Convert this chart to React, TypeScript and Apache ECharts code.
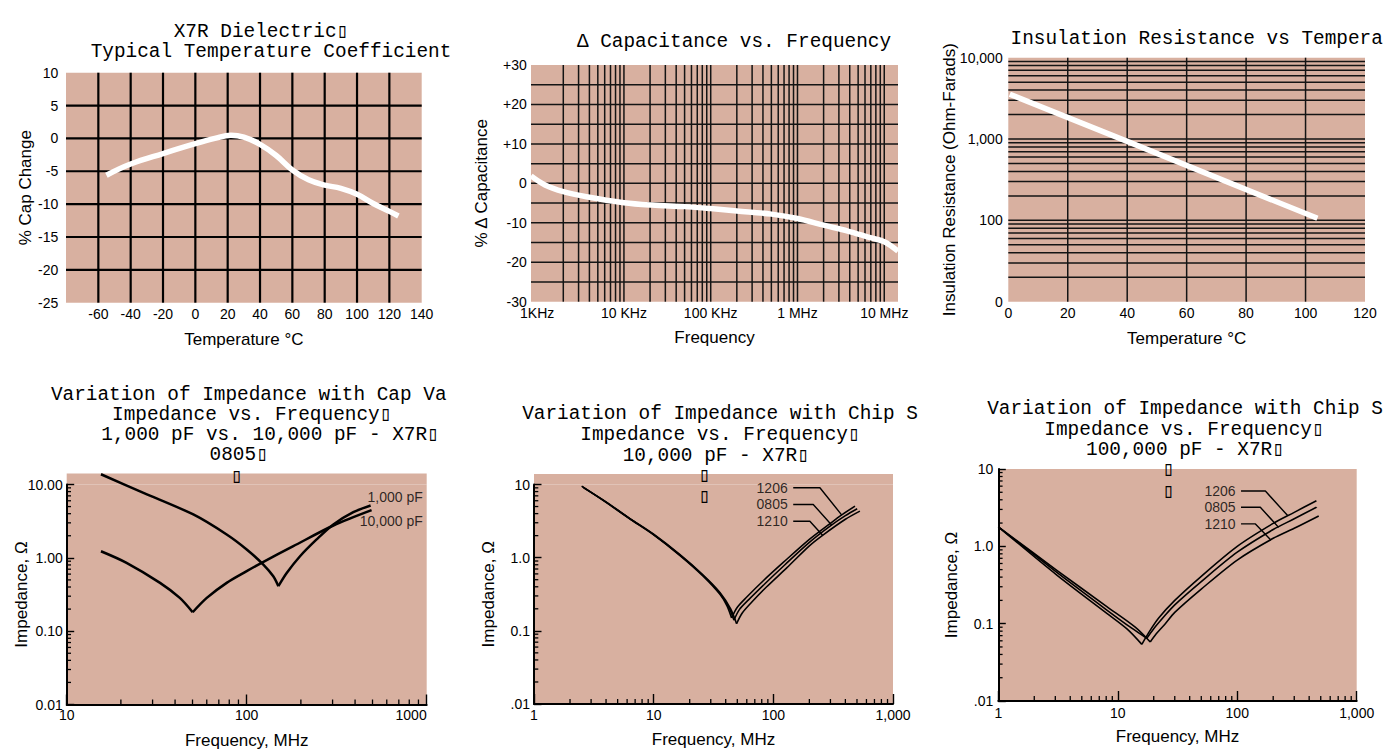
import React, { useEffect, useRef } from 'react';
import * as echarts from 'echarts';

const BG = '#d8b0a0';
const SANS = '"Liberation Sans", Arial, Helvetica, sans-serif';
const MONO = '"Liberation Mono", "Courier New", monospace';
const BOX = '\u25AF';

// ---------- Panel 1: X7R typical temperature coefficient ----------
const tcTemp = [-55, -40, -20, 0, 12, 22, 30, 40, 50, 60, 70, 80, 90, 100, 110, 120, 125.6];
const tcPct = [-5.6, -3.9, -2.3, -0.8, 0.0, 0.5, 0.2, -0.9, -2.6, -4.8, -6.3, -7.1, -7.6, -8.5, -9.9, -11.1, -11.8];
const tcXTicks = [-60, -40, -20, 0, 20, 40, 60, 80, 100, 120, 140];
const tcVGrid = [-60, -40, -20, 0, 20, 40, 60, 80, 100, 120];
const tcHGrid = [5, 0, -5, -10, -15, -20];

// ---------- Panel 2: capacitance vs frequency ----------
const cfFreq = [849, 1230, 2000, 3700, 10000, 21000, 50000, 100000, 200000, 500000, 1000000, 2000000, 3800000, 6700000, 10000000, 14400000];
const cfPct = [1.9, -0.4, -2.1, -3.4, -4.9, -5.5, -5.9, -6.4, -7.0, -7.8, -8.9, -10.6, -12.1, -13.7, -14.8, -17.2];
const cfXTicks = [1e3, 1e4, 1e5, 1e6, 1e7];
const cfXLabels = ['1KHz', '10 KHz', '100 KHz', '1 MHz', '10 MHz'];
const cfYTicks = [30, 20, 10, 0, -10, -20, -30];
const cfYLabels = ['+30', '+20', '+10', '0', '-10', '-20', '-30'];
const cfHGrid = [25, 20, 15, 10, 5, 0, -5, -10, -15, -20, -25];

// ---------- Panel 3: insulation resistance vs temperature ----------
const irTemp = [0.5, 40, 104];
const irOhmF = [3550, 935, 106];
const irYTicks = [10, 100, 1000, 10000];
const irYLabels = ['0', '100', '1,000', '10,000'];
const irXTicks = [0, 20, 40, 60, 80, 100, 120];
const irVGrid = [20, 40, 60, 80, 100];

// ---------- Panel 4: 1,000 pF vs 10,000 pF (0805) ----------
const p4C1000DescF = [15.5, 26.7, 50.5, 77.4, 100, 123.7, 140.5, 150];
const p4C1000DescZ = [13.8, 7.7, 3.9, 2.08, 1.3, 0.81, 0.56, 0.41];
const p4C1000RiseF = [150, 166.8, 197.8, 244.6, 303, 391, 488];
const p4C1000RiseZ = [0.41, 0.62, 1.05, 1.78, 2.85, 4.19, 5.18];
const p4C10000DescF = [15.5, 21.5, 33, 42.5, 50.1];
const p4C10000DescZ = [1.23, 0.855, 0.456, 0.284, 0.181];
const p4C10000RiseF = [50.1, 60, 77.4, 100, 121, 181.5, 303, 494];
const p4C10000RiseZ = [0.181, 0.284, 0.456, 0.658, 0.855, 1.44, 2.76, 4.47];
const p4LabelF = [957, 957];
const p4LabelZ = [6.65, 3.13];
const p4LabelText = ['1,000 pF', '10,000 pF'];
const p4XTicks = [10, 100, 1000];
const p4XLabels = ['10', '100', '1000'];
const p4YTicks = [0.01, 0.1, 1, 10];
const p4YLabels = ['0.01', '0.10', '1.00', '10.00'];

// ---------- Panel 5: chip sizes, 10,000 pF ----------
const p5S1206DescF = [2.5, 4, 6.3, 10, 16.6, 25.9, 35.8, 41, 44.8];
const p5S1206DescZ = [9.5, 5.7, 3.4, 2.05, 1.07, 0.56, 0.316, 0.22, 0.15];
const p5S1206RiseF = [44.8, 50, 60, 82, 121, 200, 300, 365, 481];
const p5S1206RiseZ = [0.15, 0.21, 0.29, 0.48, 0.86, 1.78, 2.95, 3.75, 5.06];
const p5S0805DescF = [2.55, 4, 6.3, 10, 16.6, 25.9, 35.8, 42.5, 46.9];
const p5S0805DescZ = [9.3, 5.75, 3.42, 2.07, 1.08, 0.57, 0.325, 0.21, 0.14];
const p5S0805RiseF = [46.9, 52, 62, 85, 125, 200, 300, 400, 502];
const p5S0805RiseZ = [0.14, 0.195, 0.265, 0.44, 0.8, 1.62, 2.72, 3.75, 4.66];
const p5S1210DescF = [2.6, 4, 6.3, 10, 16.6, 25.9, 35.8, 44, 49.3];
const p5S1210DescZ = [9.0, 5.8, 3.45, 2.09, 1.1, 0.58, 0.335, 0.2, 0.125];
const p5S1210RiseF = [49.3, 55, 65, 88, 130, 200, 258, 400, 529];
const p5S1210RiseZ = [0.125, 0.175, 0.24, 0.4, 0.73, 1.45, 2.02, 3.35, 4.33];
const p5Lead1206F = [146.6, 245, 372];
const p5Lead1206Z = [9.02, 9.02, 3.85];
const p5Lead0805F = [146.6, 215.5, 307];
const p5Lead0805Z = [5.33, 5.33, 2.8];
const p5Lead1210F = [146.6, 202, 258];
const p5Lead1210Z = [3.15, 3.15, 2.02];

// ---------- Panel 6: chip sizes, 100,000 pF ----------
const p6S1206DescF = [1, 3.09, 8.1, 12, 15.9];
const p6S1206DescZ = [1.79, 0.425, 0.136, 0.085, 0.054];
const p6S1206RiseF = [15.9, 18, 22, 30, 50, 100, 200, 300, 460];
const p6S1206RiseZ = [0.054, 0.075, 0.118, 0.2, 0.41, 1.0, 1.98, 2.75, 3.89];
const p6S0805DescF = [1, 3.09, 8.1, 13, 17.5];
const p6S0805DescZ = [1.79, 0.46, 0.15, 0.088, 0.0646];
const p6S0805RiseF = [17.5, 20, 24, 30, 50, 100, 200, 300, 460];
const p6S0805RiseZ = [0.0646, 0.086, 0.12, 0.175, 0.35, 0.84, 1.65, 2.27, 3.2];
const p6S1210DescF = [1, 3.09, 8.1, 14, 18.7];
const p6S1210DescZ = [1.79, 0.49, 0.166, 0.09, 0.058];
const p6S1210RiseF = [18.7, 21, 25, 30, 50, 100, 200, 300, 481];
const p6S1210RiseZ = [0.058, 0.074, 0.1, 0.14, 0.28, 0.665, 1.27, 1.71, 2.47];
const p6Lead1206F = [107.6, 172, 264];
const p6Lead1206Z = [5.19, 5.19, 2.5];
const p6Lead0805F = [107.6, 156, 222];
const p6Lead0805Z = [3.2, 3.2, 1.76];
const p6Lead1210F = [107.6, 142, 192];
const p6Lead1210Z = [1.95, 1.95, 1.2];

const sizeNames = ['1206', '0805', '1210'];
const chipXTicks = [1, 10, 100, 1000];
const chipXLabels = ['1', '10', '100', '1,000'];
const chipYTicks = [0.01, 0.1, 1, 10];
const chipYLabels = ['.01', '0.1', '1.0', '10'];

// ---------- helpers ----------
const zip = (xs: number[], ys: number[]) => xs.map((x, i) => [x, ys[i]]);
const logLines = (e0: number, e1: number, withDecade: boolean) => {
  const out: number[] = [];
  for (let e = e0; e < e1; e++) {
    for (let n = 2; n <= (withDecade ? 10 : 9); n++) out.push(+(n * Math.pow(10, e)).toPrecision(6));
  }
  return out;
};
const labelFmt = (ticks: number[], labels: string[]) => (v: number) => {
  for (let i = 0; i < ticks.length; i++) {
    if (Math.abs(v - ticks[i]) <= Math.abs(ticks[i]) * 1e-6 + 1e-9) return labels[i];
  }
  return '';
};

const cfVGrid = logLines(3, 7, true);
const irHGrid = logLines(1, 4, true).filter((v) => v < 10000);
const p4XMinor = logLines(1, 3, false);
const chipXMinor = logLines(0, 3, false);
const yMinorVals = logLines(-2, 1, false);

const nameStyle = { color: '#000', fontFamily: SANS, fontSize: 17 };
const tickLabel = (margin: number, formatter: any, extra: any = {}) => ({
  show: true, color: '#000', fontFamily: SANS, fontSize: 14, margin, formatter, ...extra,
});

function plainAxis(gridIndex: number, type: string, min: number, max: number, interval: number | null, label: any, name: string, nameGap: number) {
  const ax: any = {
    gridIndex, type, min, max,
    axisLine: { show: false, onZero: false },
    axisTick: { show: false },
    splitLine: { show: false },
    minorTick: { show: false },
    minorSplitLine: { show: false },
    axisLabel: label,
    name, nameLocation: 'middle', nameGap, nameTextStyle: nameStyle, nameMoveOverlap: false,
  };
  if (interval !== null) ax.interval = interval;
  return ax;
}
function framedAxis(gridIndex: number, min: number, max: number, tickLen: number, label: any, name: string, nameGap: number) {
  return {
    gridIndex, type: 'log', logBase: 10, min, max,
    axisLine: { show: true, onZero: false, lineStyle: { color: '#000', width: 2 } },
    axisTick: { show: true, inside: true, length: tickLen, lineStyle: { color: '#000', width: 1.4 } },
    splitLine: { show: false },
    minorTick: { show: false },
    axisLabel: label,
    name, nameLocation: 'middle', nameGap, nameTextStyle: nameStyle, nameMoveOverlap: false,
  };
}

function vLines(idx: number, values: number[], yRef: number, color: string, width: number) {
  return {
    type: 'custom', xAxisIndex: idx, yAxisIndex: idx, z: 1, silent: true,
    data: values.map((v) => [v, yRef]),
    renderItem: (params: any, api: any) => {
      const cs = params.coordSys;
      const p = api.coord([api.value(0), api.value(1)]);
      return { type: 'line', shape: { x1: p[0], y1: cs.y, x2: p[0], y2: cs.y + cs.height }, style: { stroke: color, lineWidth: width } };
    },
  };
}
function hLines(idx: number, values: number[], xRef: number, color: string, width: number) {
  return {
    type: 'custom', xAxisIndex: idx, yAxisIndex: idx, z: 1, silent: true,
    data: values.map((v) => [xRef, v]),
    renderItem: (params: any, api: any) => {
      const cs = params.coordSys;
      const p = api.coord([api.value(0), api.value(1)]);
      return { type: 'line', shape: { x1: cs.x, y1: p[1], x2: cs.x + cs.width, y2: p[1] }, style: { stroke: color, lineWidth: width } };
    },
  };
}
function xMinor(idx: number, values: number[], yRef: number, len: number) {
  return {
    type: 'custom', xAxisIndex: idx, yAxisIndex: idx, z: 5, silent: true,
    data: values.map((v) => [v, yRef]),
    renderItem: (params: any, api: any) => {
      const p = api.coord([api.value(0), api.value(1)]);
      return { type: 'line', shape: { x1: p[0], y1: p[1], x2: p[0], y2: p[1] - len }, style: { stroke: '#000', lineWidth: 1.3 } };
    },
  };
}
function yMinor(idx: number, values: number[], xRef: number, len: number) {
  return {
    type: 'custom', xAxisIndex: idx, yAxisIndex: idx, z: 5, silent: true,
    data: values.map((v) => [xRef, v]),
    renderItem: (params: any, api: any) => {
      const p = api.coord([api.value(0), api.value(1)]);
      return { type: 'line', shape: { x1: p[0], y1: p[1], x2: p[0] + len, y2: p[1] }, style: { stroke: '#000', lineWidth: 1.3 } };
    },
  };
}
function curve(idx: number, name: string, xs: number[], ys: number[], color: string, width: number, smooth: any) {
  return {
    type: 'line', name, xAxisIndex: idx, yAxisIndex: idx, z: 3, silent: true, clip: false,
    data: zip(xs, ys), smooth, showSymbol: false, symbol: 'none',
    lineStyle: { color, width, cap: 'butt', join: 'round' },
  };
}
function textMarks(idx: number, xs: number[], ys: number[], texts: string[], distance: number) {
  return {
    type: 'scatter', xAxisIndex: idx, yAxisIndex: idx, z: 4, silent: true, clip: false,
    symbolSize: 1, itemStyle: { color: 'rgba(0,0,0,0)' },
    label: { show: true, position: 'left', distance, formatter: (p: any) => p.name, color: '#000', fontFamily: SANS, fontSize: 14 },
    data: xs.map((x, i) => ({ name: texts[i], value: [x, ys[i]] })),
  };
}

// layout (pixels)
const grids = [
  { left: 66, top: 72.7, width: 355.7, height: 230 },
  { left: 531, top: 65, width: 367, height: 236.7 },
  { left: 1008.3, top: 57.7, width: 356.7, height: 244 },
  { left: 66.7, top: 484.5, width: 360, height: 220 },
  { left: 534, top: 484.5, width: 359, height: 219.5 },
  { left: 998.3, top: 469, width: 358.4, height: 232 },
];

const titleLines = [
  { text: 'X7R Dielectric' + BOX, x: 261, y: 31.8 },
  { text: 'Typical Temperature Coefficient', x: 271, y: 51.8 },
  { text: '\u0394 Capacitance vs. Frequency', x: 734, y: 41.5 },
  { text: 'Insulation Resistance vs Tempera', x: 1196.7, y: 39 },
  { text: 'Variation of Impedance with Cap Va', x: 248.7, y: 395 },
  { text: 'Impedance vs. Frequency' + BOX, x: 251.7, y: 415 },
  { text: '1,000 pF vs. 10,000 pF - X7R' + BOX, x: 270, y: 435 },
  { text: '0805' + BOX, x: 238.7, y: 455 },
  { text: BOX, x: 236.7, y: 477 },
  { text: 'Variation of Impedance with Chip S', x: 720, y: 414 },
  { text: 'Impedance vs. Frequency' + BOX, x: 720, y: 434.5 },
  { text: '10,000 pF - X7R' + BOX, x: 715.8, y: 455.5 },
  { text: BOX, x: 704.3, y: 475.5 },
  { text: BOX, x: 704.3, y: 497 },
  { text: 'Variation of Impedance with Chip S', x: 1185, y: 409 },
  { text: 'Impedance vs. Frequency' + BOX, x: 1184, y: 429.5 },
  { text: '100,000 pF - X7R' + BOX, x: 1185, y: 450 },
  { text: BOX, x: 1168.3, y: 470 },
  { text: BOX, x: 1168.3, y: 492 },
];

function buildOption() {
  const xAxis = [
    plainAxis(0, 'value', -80, 140, 20, tickLabel(4.6, labelFmt(tcXTicks, tcXTicks.map(String))), 'Temperature \u00B0C', 28),
    plainAxis(1, 'log', 849, 14400000, null, tickLabel(4.6, labelFmt(cfXTicks, cfXLabels)), 'Frequency', 27),
    plainAxis(2, 'value', 0, 120, 20, tickLabel(4.6, labelFmt(irXTicks, irXTicks.map(String))), 'Temperature \u00B0C', 28),
    framedAxis(3, 10, 1000, 10, tickLabel(3.6, labelFmt(p4XTicks, p4XLabels), { alignMaxLabel: 'right' }), 'Frequency, MHz', 27),
    framedAxis(4, 1, 1000, 10, tickLabel(4, labelFmt(chipXTicks, chipXLabels)), 'Frequency, MHz', 26.8),
    framedAxis(5, 1, 1000, 10, tickLabel(4.7, labelFmt(chipXTicks, chipXLabels)), 'Frequency, MHz', 27.2),
  ];
  const yAxis = [
    plainAxis(0, 'value', -25, 10, 5, tickLabel(7.7, (v: number) => String(v)), '% Cap Change', 32.5),
    plainAxis(1, 'value', -30, 30, 10, tickLabel(4.3, labelFmt(cfYTicks, cfYLabels)), '% \u0394 Capacitance', 40.8),
    plainAxis(2, 'log', 10, 10000, null, tickLabel(5.6, labelFmt(irYTicks, irYLabels)), 'Insulation Resistance (Ohm-Farads)', 50.8),
    framedAxis(3, 0.01, 10, 7.5, tickLabel(4, labelFmt(p4YTicks, p4YLabels)), 'Impedance, \u03A9', 37),
    framedAxis(4, 0.01, 10, 7.5, tickLabel(4, labelFmt(chipYTicks, chipYLabels)), 'Impedance, \u03A9', 37.2),
    framedAxis(5, 0.01, 10, 7.5, tickLabel(5, labelFmt(chipYTicks, chipYLabels)), 'Impedance, \u03A9', 38),
  ];

  const p5Curves = [
    [p5S1206DescF, p5S1206DescZ, p5S1206RiseF, p5S1206RiseZ],
    [p5S0805DescF, p5S0805DescZ, p5S0805RiseF, p5S0805RiseZ],
    [p5S1210DescF, p5S1210DescZ, p5S1210RiseF, p5S1210RiseZ],
  ];
  const p6Curves = [
    [p6S1206DescF, p6S1206DescZ, p6S1206RiseF, p6S1206RiseZ],
    [p6S0805DescF, p6S0805DescZ, p6S0805RiseF, p6S0805RiseZ],
    [p6S1210DescF, p6S1210DescZ, p6S1210RiseF, p6S1210RiseZ],
  ];
  const p5Leads = [[p5Lead1206F, p5Lead1206Z], [p5Lead0805F, p5Lead0805Z], [p5Lead1210F, p5Lead1210Z]];
  const p6Leads = [[p6Lead1206F, p6Lead1206Z], [p6Lead0805F, p6Lead0805Z], [p6Lead1210F, p6Lead1210Z]];

  const series: any[] = [
    // panel 1
    vLines(0, tcVGrid, -25, '#000', 2.2),
    hLines(0, tcHGrid, -80, '#000', 2.2),
    curve(0, 'X7R % cap change', tcTemp, tcPct, '#fff', 5.5, 0.4),
    // panel 2
    vLines(1, cfVGrid, -30, '#141414', 1.5),
    hLines(1, cfHGrid, 849, '#141414', 1.5),
    curve(1, '% delta capacitance', cfFreq, cfPct, '#fff', 5.5, 0.35),
    // panel 3
    vLines(2, irVGrid, 10, '#141414', 1.5),
    hLines(2, irHGrid, 0, '#141414', 1.5),
    curve(2, 'Insulation resistance', irTemp, irOhmF, '#fff', 5.5, false),
    // panel 4
    xMinor(3, p4XMinor, 0.01, 5),
    yMinor(3, yMinorVals, 10, 4.3),
    curve(3, '1,000 pF', p4C1000DescF, p4C1000DescZ, '#000', 2.5, 0.3),
    curve(3, '1,000 pF', p4C1000RiseF, p4C1000RiseZ, '#000', 2.5, 0.3),
    curve(3, '10,000 pF', p4C10000DescF, p4C10000DescZ, '#000', 2.5, 0.3),
    curve(3, '10,000 pF', p4C10000RiseF, p4C10000RiseZ, '#000', 2.5, 0.3),
    textMarks(3, p4LabelF, p4LabelZ, p4LabelText, 0),
    // panel 5
    xMinor(4, chipXMinor, 0.01, 5),
    yMinor(4, yMinorVals, 1, 4.3),
    // panel 6
    xMinor(5, chipXMinor, 0.01, 5),
    yMinor(5, yMinorVals, 1, 4.3),
  ];
  p5Curves.forEach((c, i) => {
    series.push(curve(4, sizeNames[i], c[0], c[1], '#000', 1.6, 0.3));
    series.push(curve(4, sizeNames[i], c[2], c[3], '#000', 1.6, 0.3));
  });
  p6Curves.forEach((c, i) => {
    series.push(curve(5, sizeNames[i], c[0], c[1], '#000', 1.6, 0.3));
    series.push(curve(5, sizeNames[i], c[2], c[3], '#000', 1.6, 0.3));
  });
  p5Leads.forEach((l, i) => series.push(curve(4, sizeNames[i] + ' leader', l[0], l[1], '#000', 1.4, false)));
  p6Leads.forEach((l, i) => series.push(curve(5, sizeNames[i] + ' leader', l[0], l[1], '#000', 1.4, false)));
  series.push(textMarks(4, p5Leads.map((l) => l[0][0]), p5Leads.map((l) => l[1][0]), sizeNames, 5));
  series.push(textMarks(5, p6Leads.map((l) => l[0][0]), p6Leads.map((l) => l[1][0]), sizeNames, 5));

  return {
    animation: false,
    backgroundColor: '#ffffff',
    textStyle: { fontFamily: SANS },
    title: titleLines.map((t) => ({
      text: t.text, left: t.x, top: t.y, textAlign: 'center', textVerticalAlign: 'middle', padding: 0,
      textStyle: { fontFamily: MONO, fontSize: 19.4, fontWeight: 'normal', color: '#000', lineHeight: 17 },
    })),
    graphic: [
      { type: 'rect', silent: true, z: 0, shape: { x: 66.7, y: 473.5, width: 360, height: 11 }, style: { fill: BG } },
      { type: 'rect', silent: true, z: 0, shape: { x: 534, y: 474, width: 359, height: 10.5 }, style: { fill: BG } },
    ],
    grid: grids.map((g) => ({ ...g, show: true, backgroundColor: BG, borderWidth: 0, borderColor: 'transparent', containLabel: false, outerBoundsMode: 'none' })),
    xAxis,
    yAxis,
    series,
  };
}

export default function App() {
  const ref = useRef<HTMLDivElement>(null);
  useEffect(() => {
    document.body.style.margin = '0';
    if (!ref.current) return;
    const chart = echarts.init(ref.current, null, { renderer: 'svg' });
    chart.setOption(buildOption() as any);
    return () => chart.dispose();
  }, []);
  return <div ref={ref} style={{ width: 1398, height: 751 }} />;
}
